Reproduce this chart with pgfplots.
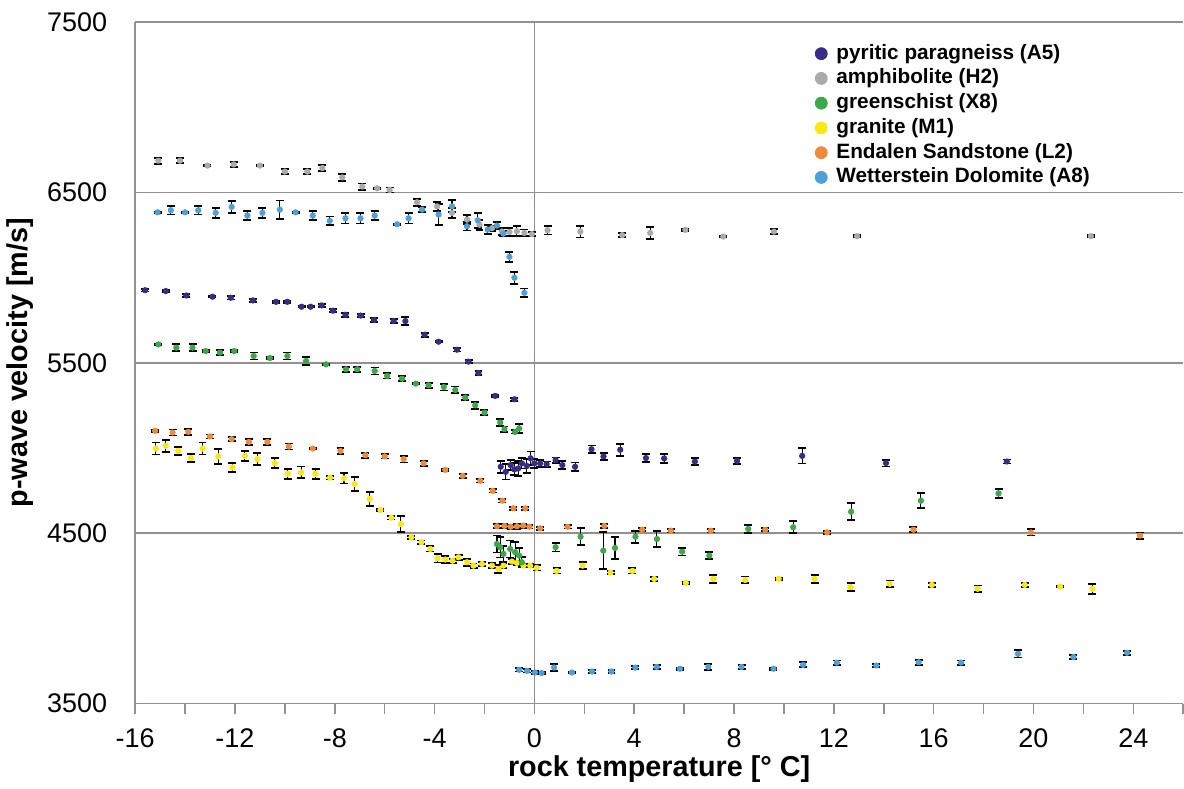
\documentclass[border=0pt]{standalone}
\usepackage{fontspec}
\setmainfont{Liberation Sans}
\usepackage{pgfplots}
\pgfplotsset{compat=1.18}

\definecolor{axisgray}{RGB}{150,143,143}
\definecolor{cA5}{RGB}{58,44,133}
\definecolor{cH2}{RGB}{170,170,170}
\definecolor{cX8}{RGB}{60,168,74}
\definecolor{cM1}{RGB}{250,232,20}
\definecolor{cL2}{RGB}{238,138,58}
\definecolor{cA8}{RGB}{78,160,217}

\pgfplotsset{
  % coloured dots first, black error bars on top
  rockerr/.style={draw=none, no markers, forget plot,
    error bars/.cd, y dir=both, y explicit,
    error bar style={draw=black, line width=0.55pt},
    error mark options={draw=black, line width=0.9pt, mark size=2pt, rotate=90}},
  rockdot/.style={only marks, mark=*, mark size=1.35pt, color=#1,
    mark options={draw=#1, fill=#1}, forget plot},
}

% x  y  err   (velocity in m/s)
\pgfplotstableread{
x y e
-15.07 6686 18
-14.2 6686 15
-13.1 6657 5
-12.05 6664 15
-11.0 6657 5
-10.0 6622 15
-9.1 6622 15
-8.5 6643 18
-7.7 6588 22
-6.9 6534 18
-6.3 6524 5
-5.8 6514 15
-4.7 6442 20
-3.9 6418 25
-3.3 6380 30
-2.7 6340 25
-2.2 6310 30
-1.7 6290 15
-1.3 6270 20
-1.0 6268 25
-0.7 6272 30
-0.4 6262 20
-0.1 6255 12
0.53 6278 25
1.84 6270 35
3.52 6249 12
4.64 6262 35
6.05 6280 5
7.57 6241 5
9.6 6270 15
12.93 6243 5
22.3 6243 5
}\amphibolite

\pgfplotstableread{
x y e
-15.1 6383 5
-14.57 6395 25
-14.0 6383 5
-13.47 6395 25
-12.77 6380 30
-12.13 6415 35
-11.5 6364 25
-10.9 6380 30
-10.2 6399 53
-9.57 6383 5
-8.88 6364 25
-8.2 6333 25
-7.57 6348 30
-6.97 6348 30
-6.4 6364 25
-5.5 6313 5
-5.04 6348 30
-4.5 6399 15
-3.84 6370 60
-3.3 6418 35
-2.7 6301 25
-2.27 6336 45
-1.87 6282 25
-1.5 6305 20
-1.24 6258 15
-1.0 6122 30
-0.8 5999 35
-0.4 5911 25
-0.61 3699 10
-0.29 3693 10
0.02 3683 8
0.29 3680 8
0.79 3712 20
1.5 3683 5
2.31 3689 10
3.09 3689 10
4.04 3712 10
4.9 3716 12
5.83 3705 5
6.97 3716 18
8.3 3716 12
9.58 3705 5
10.77 3728 15
12.12 3741 12
13.7 3724 10
15.4 3743 15
17.1 3741 12
19.38 3793 22
21.6 3774 12
23.75 3799 12
}\dolomite

\pgfplotstableread{
x y e
-15.6 5926 8
-14.77 5921 5
-13.95 5895 10
-12.9 5888 5
-12.17 5882 10
-11.28 5866 10
-10.35 5858 5
-9.9 5858 5
-9.33 5829 5
-8.97 5829 5
-8.53 5837 10
-8.07 5806 10
-7.57 5782 12
-6.96 5777 10
-6.43 5751 12
-5.64 5745 10
-5.17 5745 22
-4.4 5665 12
-3.84 5624 5
-3.1 5577 10
-2.64 5507 8
-2.24 5440 10
-1.57 5306 5
-0.8 5286 8
-1.35 4890 35
-1.15 4860 45
-0.95 4900 30
-0.8 4875 35
-0.65 4880 45
-0.5 4910 30
-0.3 4895 40
-0.15 4940 40
0.0 4910 25
0.23 4910 20
0.49 4906 15
0.85 4929 15
1.12 4900 25
1.63 4890 25
2.29 4993 22
2.77 4951 22
3.44 4990 35
4.47 4941 25
5.2 4939 25
6.43 4921 22
8.12 4925 18
10.73 4954 45
14.09 4912 20
18.93 4921 12
}\paragneiss

\pgfplotstableread{
x y e
-15.07 5608 5
-14.35 5589 20
-13.7 5589 20
-13.17 5569 5
-12.6 5560 15
-12.03 5569 5
-11.25 5540 20
-10.6 5528 5
-9.9 5540 20
-9.15 5511 25
-8.35 5491 5
-7.55 5462 15
-7.1 5462 15
-6.4 5452 20
-5.9 5423 15
-5.3 5407 15
-4.75 5378 5
-4.24 5368 15
-3.63 5358 20
-3.17 5341 20
-2.77 5296 15
-2.37 5251 20
-2.0 5208 15
-1.37 5150 20
-1.2 5111 15
-0.77 5095 10
-0.61 5115 25
-1.5 4437 50
-1.37 4418 60
-1.24 4379 45
-0.97 4408 50
-0.77 4389 60
-0.61 4369 45
-0.5 4330 30
0.85 4418 25
1.85 4480 50
2.76 4398 110
3.23 4414 65
4.05 4480 35
4.91 4466 45
5.92 4392 22
7.01 4369 22
8.57 4525 22
10.37 4535 35
12.69 4626 50
15.49 4691 45
18.6 4734 25
}\greenschist

\pgfplotstableread{
x y e
-15.2 5101 5
-14.5 5091 18
-13.87 5095 18
-13.0 5068 12
-12.13 5052 12
-11.44 5036 18
-10.7 5036 18
-9.84 5009 18
-8.88 4997 5
-7.77 4983 18
-6.77 4958 15
-6.0 4951 12
-5.24 4935 20
-4.44 4910 15
-3.57 4872 5
-2.87 4837 12
-2.17 4808 10
-1.67 4749 10
-1.28 4691 10
-0.84 4646 10
-0.37 4646 10
-1.5 4541 12
-1.2 4543 10
-0.95 4538 12
-0.7 4541 15
-0.45 4545 12
-0.2 4538 10
0.23 4529 10
1.33 4538 10
2.8 4543 12
4.32 4521 10
5.47 4515 10
7.07 4515 10
9.25 4521 10
11.73 4505 10
15.19 4521 15
19.9 4505 18
24.27 4486 18
}\sandstone

\pgfplotstableread{
x y e
-15.17 4997 35
-14.77 5013 35
-14.27 4983 25
-13.76 4941 25
-13.3 4997 35
-12.67 4951 45
-12.1 4886 25
-11.6 4954 30
-11.1 4935 35
-10.4 4911 30
-9.88 4849 30
-9.35 4857 35
-8.77 4849 30
-8.19 4826 10
-7.63 4822 30
-7.2 4789 40
-6.6 4701 40
-6.17 4636 5
-5.73 4591 10
-5.35 4554 45
-4.93 4476 10
-4.53 4447 10
-4.17 4408 15
-3.88 4353 25
-3.57 4346 20
-3.28 4339 12
-3.04 4359 15
-2.7 4330 20
-2.44 4310 12
-2.1 4320 10
-1.7 4310 15
-1.44 4291 25
-1.24 4310 15
-0.9 4334 15
-0.7 4326 10
-0.44 4310 10
-0.17 4310 10
0.09 4297 15
0.89 4279 15
1.93 4310 20
3.05 4269 10
3.93 4279 15
4.8 4232 12
6.07 4209 5
7.17 4232 25
8.45 4226 20
9.79 4232 5
11.23 4232 25
12.67 4184 25
14.24 4203 20
15.93 4197 12
17.76 4174 20
19.65 4197 12
21.07 4187 5
22.36 4174 30
}\granite

\begin{document}
\begin{tikzpicture}
\begin{axis}[
  scale only axis, width=525pt, height=341.5pt,
  xmin=-16, xmax=26, ymin=3500, ymax=7500,
  xtick={-16,-12,...,24}, minor xtick={-14,-10,...,26},
  ytick={3500,4500,...,7500},
  axis x line*=box, axis y line*=left,
  axis line style={draw=axisgray, line width=0.8pt},
  xtick pos=bottom, ytick pos=left, tick align=outside,
  major tick length=5pt, minor tick length=5pt,
  tick style={axisgray, line width=0.8pt},
  ytick style={draw=none},
  ymajorgrids, major grid style={axisgray, line width=0.8pt},
  /pgf/number format/assume math mode=true,
  /pgf/number format/1000 sep={},
  ticklabel style={font=\fontsize{13.5}{15}\selectfont},
  yticklabel style={xshift=-5.5pt},
  xticklabel style={yshift=-4pt},
  xlabel={rock temperature [° C]}, ylabel={p-wave velocity [m/s]},
  label style={font=\fontsize{14.4}{17}\selectfont\bfseries},
  xlabel style={yshift=3pt},
  legend style={at={(axis cs:11.0,7410)}, anchor=north west, draw=none, fill=none,
    font=\fontsize{10.4}{12}\selectfont\bfseries, row sep=0.4pt,
    nodes={text height=7.6pt, text depth=2.2pt, inner sep=1.1pt},
    /tikz/every odd column/.append style={column sep=3.5pt}},
  legend cell align=left,
]
\coordinate (axtop) at (rel axis cs:0,1);
\addplot[axisgray, line width=0.8pt, forget plot] coordinates {(0,3500) (0,7500)};

\addlegendimage{only marks, mark=*, mark size=3pt, cA5}
\addlegendentry{pyritic paragneiss (A5)}
\addlegendimage{only marks, mark=*, mark size=3pt, cH2}
\addlegendentry{amphibolite (H2)}
\addlegendimage{only marks, mark=*, mark size=3pt, cX8}
\addlegendentry{greenschist (X8)}
\addlegendimage{only marks, mark=*, mark size=3pt, cM1}
\addlegendentry{granite (M1)}
\addlegendimage{only marks, mark=*, mark size=3pt, cL2}
\addlegendentry{Endalen Sandstone (L2)}
\addlegendimage{only marks, mark=*, mark size=3pt, cA8}
\addlegendentry{Wetterstein Dolomite (A8)}

\addplot[rockdot=cH2] table[x=x, y=y] {\amphibolite};
\addplot[rockerr] table[x=x, y=y, y error=e] {\amphibolite};
\addplot[rockdot=cA8] table[x=x, y=y] {\dolomite};
\addplot[rockerr] table[x=x, y=y, y error=e] {\dolomite};
\addplot[rockdot=cM1] table[x=x, y=y] {\granite};
\addplot[rockerr] table[x=x, y=y, y error=e] {\granite};
\addplot[rockdot=cL2] table[x=x, y=y] {\sandstone};
\addplot[rockerr] table[x=x, y=y, y error=e] {\sandstone};
\addplot[rockdot=cX8] table[x=x, y=y] {\greenschist};
\addplot[rockerr] table[x=x, y=y, y error=e] {\greenschist};
\addplot[rockdot=cA5] table[x=x, y=y] {\paragneiss};
\addplot[rockerr] table[x=x, y=y, y error=e] {\paragneiss};
\end{axis}
\path (axtop) ++(0,11pt);
\end{tikzpicture}
\end{document}
